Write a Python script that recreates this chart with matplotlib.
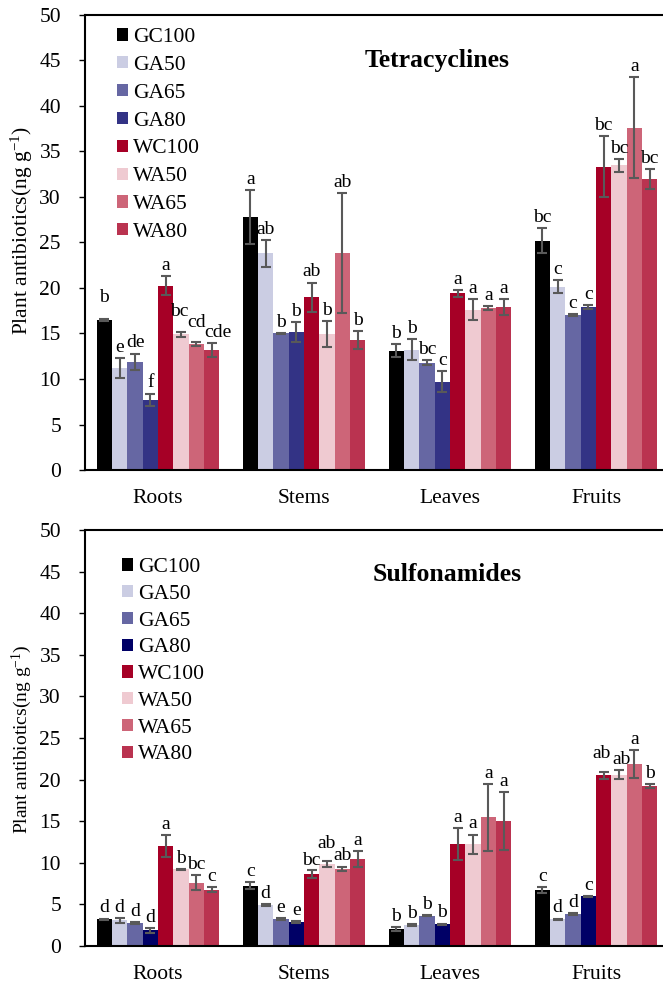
import numpy as np
import matplotlib
matplotlib.use("Agg")
import matplotlib.pyplot as plt
from matplotlib.patches import Patch

plt.rcParams['font.family'] = ['Liberation Serif', 'DejaVu Serif']
plt.rcParams['mathtext.fontset'] = 'custom'
plt.rcParams['mathtext.rm'] = 'Liberation Serif'
plt.rcParams['mathtext.default'] = 'regular'

# tissues and treatments
tissues = ['Roots', 'Stems', 'Leaves', 'Fruits']
treatments = ['GC100', 'GA50', 'GA65', 'GA80', 'WC100', 'WA50', 'WA65', 'WA80']

# Tetracyclines, rows = treatment, cols = tissue
tc_mean = [
    [16.5, 27.8, 13.1, 25.2],
    [11.2, 23.8, 13.2, 20.15],
    [11.9, 15.0, 11.8, 17.0],
    [7.7, 15.2, 9.7, 17.9],
    [20.25, 19.0, 19.4, 33.3],
    [14.9, 14.95, 17.6, 33.5],
    [13.85, 23.8, 17.8, 37.6],
    [13.2, 14.3, 17.9, 31.95],
]
tc_err = [
    [0.1, 3.0, 0.7, 1.4],
    [1.1, 1.45, 1.15, 0.7],
    [0.9, 0.1, 0.25, 0.1],
    [0.7, 1.1, 1.15, 0.25],
    [1.05, 1.6, 0.35, 3.35],
    [0.25, 1.4, 1.15, 0.7],
    [0.25, 6.6, 0.2, 5.55],
    [0.8, 0.95, 0.85, 1.1],
]
tc_letters = [
    ['b', 'a', 'b', 'bc'],
    ['e', 'ab', 'b', 'c'],
    ['de', 'b', 'bc', 'c'],
    ['f', 'b', 'c', 'c'],
    ['a', 'ab', 'a', 'bc'],
    ['bc', 'b', 'a', 'bc'],
    ['cd', 'ab', 'a', 'a'],
    ['cde', 'b', 'a', 'bc'],
]

# Sulfonamides
sa_mean = [
    [3.2, 7.25, 2.05, 6.75],
    [3.1, 4.95, 2.5, 3.2],
    [2.75, 3.25, 3.65, 3.85],
    [1.9, 2.85, 2.6, 5.95],
    [12.05, 8.65, 12.25, 20.5],
    [9.2, 9.85, 12.2, 20.6],
    [7.6, 9.3, 15.45, 21.9],
    [6.75, 10.45, 15.05, 19.25],
]
sa_err = [
    [0.1, 0.45, 0.25, 0.35],
    [0.3, 0.1, 0.1, 0.1],
    [0.15, 0.1, 0.1, 0.1],
    [0.3, 0.1, 0.1, 0.1],
    [1.3, 0.5, 1.95, 0.4],
    [0.1, 0.35, 1.2, 0.5],
    [0.9, 0.25, 4.05, 1.7],
    [0.3, 1.0, 3.5, 0.25],
]
sa_letters = [
    ['d', 'c', 'b', 'c'],
    ['d', 'd', 'b', 'd'],
    ['d', 'e', 'b', 'd'],
    ['d', 'e', 'b', 'c'],
    ['a', 'bc', 'a', 'ab'],
    ['b', 'ab', 'a', 'ab'],
    ['bc', 'ab', 'a', 'a'],
    ['c', 'a', 'a', 'b'],
]

colors_tc = ['#000000', '#CBCDE3', '#6667A3', '#333385',
             '#A60026', '#EFCAD1', '#CD6578', '#BA3350']
colors_sa = ['#000000', '#CBCDE3', '#6667A3', '#000066',
             '#A60026', '#EFCAD1', '#CD6578', '#BA3350']

# nudges (dx, dy in points) for crowded letter labels, keyed by (treatment, tissue)
tc_nudge = {(0, 0): (0, 8), (5, 0): (-1.5, 7), (6, 0): (0.5, 6), (7, 0): (4.5, 0)}
sa_nudge = {(4, 3): (-1.5, 6), (5, 3): (1.5, 0), (5, 1): (0, 5), (4, 1): (0, -1)}

W, H = 663, 985
fig = plt.figure(figsize=(W / 100, H / 100), dpi=100)

fs = 15.5
bw = 0.105
x = np.arange(len(tissues))


def panel(rect, mean, err, letters, nudge, colors, title, title_xy, leg_anchor,
          leg_space, ylab_size, ylab_y):
    ax = fig.add_axes(rect)
    n = len(treatments)
    for i in range(n):
        xs = x + (i - (n - 1) / 2) * bw
        ax.bar(xs, mean[i], width=bw, color=colors[i], edgecolor='none',
               label=treatments[i], zorder=2)
        ax.errorbar(xs, mean[i], yerr=err[i], fmt='none', ecolor='#595959',
                    elinewidth=1.5, capsize=3.6, capthick=1.5, zorder=3)
        for j in range(len(tissues)):
            dx, dy = nudge.get((i, j), (0, 0))
            ax.annotate(letters[i][j], (xs[j], mean[i][j] + err[i][j]),
                        xytext=(dx, 1.5 + dy), textcoords='offset points',
                        ha='center', va='bottom', fontsize=14)
    ax.set_xlim(-0.5, 3.5)
    ax.set_ylim(0, 50)
    ax.set_yticks(np.arange(0, 51, 5))
    ax.set_xticks(x)
    ax.set_xticklabels(tissues, fontsize=fs)
    ax.tick_params(axis='x', length=0, pad=14)
    ax.tick_params(axis='y', direction='out', length=4.3, width=1, labelsize=fs, pad=13)
    for s in ['left', 'top', 'bottom']:
        ax.spines[s].set_linewidth(1.5)
    ax.spines['right'].set_visible(False)
    ax.set_ylabel('Plant antibiotics(ng g$^{-1}$)', fontsize=ylab_size, va='center')
    ax.yaxis.set_label_coords(-0.108, ylab_y)
    ax.text(title_xy[0], title_xy[1], title, transform=ax.transAxes,
            ha='center', va='center', fontsize=18.5, fontweight='bold')
    handles = [Patch(facecolor=c, edgecolor='none') for c in colors]
    ax.legend(handles, treatments, loc='upper left', bbox_to_anchor=leg_anchor,
              frameon=False, fontsize=fs, handlelength=0.5, handleheight=0.5,
              handletextpad=0.25, labelspacing=leg_space, borderaxespad=0)
    return ax


left = 85 / W
width = 584 / W
panel([left, 1 - 470 / H, width, 455 / H], tc_mean, tc_err, tc_letters, tc_nudge,
      colors_tc, 'Tetracyclines', (0.603, 0.901), (0.04, 0.99), 0.41, 15.5, 0.527)
panel([left, 1 - 946 / H, width, 416 / H], sa_mean, sa_err, sa_letters, sa_nudge,
      colors_sa, 'Sulfonamides', (0.62, 0.892), (0.049, 0.953), 0.36, 14, 0.497)

fig.savefig('out.png', dpi=100)
